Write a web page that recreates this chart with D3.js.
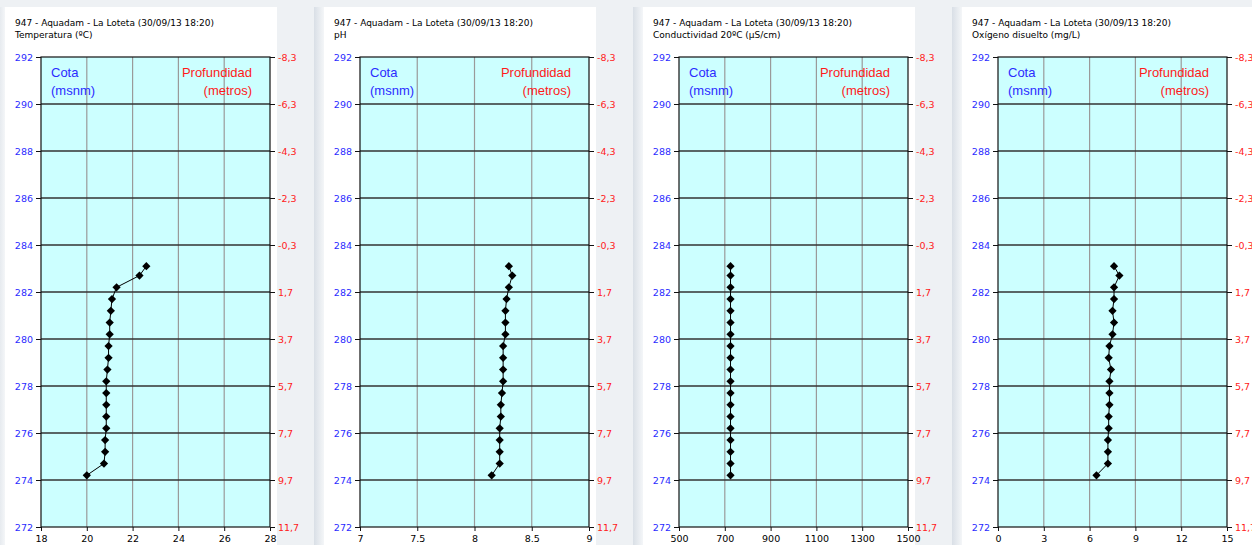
<!DOCTYPE html>
<html>
<head>
<meta charset="utf-8">
<script src="https://cdn.jsdelivr.net/npm/d3@7"></script>
<style>
  body { margin: 0; background: #e9edf1; }
  svg { display: block; }
</style>
</head>
<body>
<div id="chart"></div>
<script>
// cota (msnm) of each sample in the profile, top to bottom
const cota = [283.1, 282.7, 282.2, 281.7, 281.2, 280.7, 280.2, 279.7, 279.2, 278.7,
              278.2, 277.7, 277.2, 276.7, 276.2, 275.7, 275.2, 274.7, 274.2]

const temperature = [22.6, 22.3, 21.3, 21.1, 21.05, 21.0, 21.0, 20.95, 20.95, 20.9,
                     20.85, 20.85, 20.85, 20.85, 20.85, 20.8, 20.8, 20.75, 20.0]
const ph = [8.30, 8.33, 8.30, 8.28, 8.27, 8.27, 8.27, 8.25, 8.25, 8.25,
            8.25, 8.24, 8.23, 8.23, 8.22, 8.22, 8.22, 8.22, 8.15]
const conductivity = [725, 725, 725, 725, 725, 725, 725, 725, 725, 725,
                      725, 725, 725, 725, 725, 725, 725, 725, 725]
const oxygen = [7.6, 7.95, 7.6, 7.6, 7.5, 7.6, 7.5, 7.3, 7.25, 7.4,
                7.3, 7.3, 7.3, 7.25, 7.25, 7.2, 7.2, 7.2, 6.45]

const title = "947 - Aquadam - La Loteta (30/09/13 18:20)"
const variableNames = ["Temperatura (ºC)", "pH", "Conductividad 20ºC (µS/cm)", "Oxígeno disuelto (mg/L)"]
const xTicks = [
    [18, 20, 22, 24, 26, 28],
    [7, 7.5, 8, 8.5, 9],
    [500, 700, 900, 1100, 1300, 1500],
    [0, 3, 6, 9, 12, 15]
]
const cotaTicks = [292, 290, 288, 286, 284, 282, 280, 278, 276, 274, 272]
const depthTicks = ["-8,3", "-6,3", "-4,3", "-2,3", "-0,3", "1,7", "3,7", "5,7", "7,7", "9,7", "11,7"]

const series = [temperature, ph, conductivity, oxygen]

const width = 1252, height = 545
const plotLefts = [41, 360, 679, 998]
const plotW = 229
const plotTop = 57, plotBottom = 527

const svg = d3.select("#chart")
  .append("svg")
    .attr("width", width)
    .attr("height", height)

// soft shadow between the panels
const defs = svg.append("defs")
const grad = defs.append("linearGradient").attr("id", "shade")
grad.append("stop").attr("offset", "0%").attr("stop-color", "#d9dfe6")
grad.append("stop").attr("offset", "100%").attr("stop-color", "#f4f6f8")

svg.append("rect")
    .attr("width", width).attr("height", height)
    .attr("fill", "#eef1f4")

const scaleY = d3.scaleLinear()
    .domain([272, 292])
    .range([plotBottom, plotTop])

series.forEach((values, i) => {
    const left = plotLefts[i]
    const ticks = xTicks[i]

    const scaleX = d3.scaleLinear()
        .domain([ticks[0], ticks[ticks.length - 1]])
        .range([left, left + plotW])

    // panel card
    svg.append("rect")
        .attr("x", left - 46).attr("y", 7)
        .attr("width", 10).attr("height", height - 7)
        .attr("fill", "url(#shade)")
    svg.append("rect")
        .attr("x", left - 36).attr("y", 7)
        .attr("width", 272 + (i === 3 ? 20 : 0)).attr("height", height - 7)
        .attr("fill", "#ffffff")

    const g = svg.append("g")

    g.append("text")
        .attr("x", left - 26).attr("y", 26)
        .attr("font-family", "DejaVu Sans").attr("font-size", 9)
        .attr("fill", "#000")
        .text(title)
    g.append("text")
        .attr("x", left - 26).attr("y", 38)
        .attr("font-family", "DejaVu Sans").attr("font-size", 9)
        .attr("fill", "#000")
        .text(variableNames[i])

    g.append("rect")
        .attr("x", left).attr("y", plotTop)
        .attr("width", plotW).attr("height", plotBottom - plotTop)
        .attr("fill", "#ccffff")

    // vertical gridlines
    g.selectAll(".vgrid")
        .data(ticks.slice(1, -1))
        .join("line")
        .attr("x1", d => scaleX(d)).attr("x2", d => scaleX(d))
        .attr("y1", plotTop).attr("y2", plotBottom)
        .attr("stroke", "#9a9a9a").attr("stroke-width", 1.2)

    // horizontal gridlines
    g.selectAll(".hgrid")
        .data(cotaTicks.slice(1, -1))
        .join("line")
        .attr("x1", left).attr("x2", left + plotW)
        .attr("y1", d => scaleY(d)).attr("y2", d => scaleY(d))
        .attr("stroke", "#333").attr("stroke-width", 1.3)

    g.append("rect")
        .attr("x", left).attr("y", plotTop)
        .attr("width", plotW).attr("height", plotBottom - plotTop)
        .attr("fill", "none").attr("stroke", "#111").attr("stroke-width", 1.2)

    // left axis (cota)
    const leftAxis = g.append("g")
        .attr("transform", `translate(${left},0)`)
        .call(d3.axisLeft(scaleY).tickValues(cotaTicks).tickSize(5).tickPadding(3))
    leftAxis.select(".domain").remove()
    leftAxis.selectAll("line").attr("stroke", "#111")
    leftAxis.selectAll("text")
        .attr("font-family", "DejaVu Sans").attr("font-size", 9.5)
        .attr("fill", "#2b2bff")

    // right axis (profundidad)
    const rightAxis = g.append("g")
        .attr("transform", `translate(${left + plotW},0)`)
        .call(d3.axisRight(scaleY).tickValues(cotaTicks)
            .tickFormat((d, k) => depthTicks[k]).tickSize(5).tickPadding(3))
    rightAxis.select(".domain").remove()
    rightAxis.selectAll("line").attr("stroke", "#111")
    rightAxis.selectAll("text")
        .attr("font-family", "DejaVu Sans").attr("font-size", 9.5)
        .attr("fill", "#ff1a1a")

    // bottom axis
    const bottomAxis = g.append("g")
        .attr("transform", `translate(0,${plotBottom})`)
        .call(d3.axisBottom(scaleX).tickValues(ticks).tickFormat(d => String(d))
            .tickSize(4).tickPadding(4))
    bottomAxis.select(".domain").remove()
    bottomAxis.selectAll("line").attr("stroke", "#111")
    bottomAxis.selectAll("text")
        .attr("font-family", "DejaVu Sans").attr("font-size", 9.5)
        .attr("fill", "#000")

    // in-plot captions
    g.append("text")
        .attr("x", left + 10).attr("y", 77)
        .attr("font-family", "Liberation Sans").attr("font-size", 13)
        .attr("fill", "#2b2bff").text("Cota")
    g.append("text")
        .attr("x", left + 10).attr("y", 95)
        .attr("font-family", "Liberation Sans").attr("font-size", 13)
        .attr("fill", "#2b2bff").text("(msnm)")
    g.append("text")
        .attr("x", left + 211).attr("y", 77).attr("text-anchor", "end")
        .attr("font-family", "Liberation Sans").attr("font-size", 13)
        .attr("fill", "#ff1a1a").text("Profundidad")
    g.append("text")
        .attr("x", left + 211).attr("y", 95).attr("text-anchor", "end")
        .attr("font-family", "Liberation Sans").attr("font-size", 13)
        .attr("fill", "#ff1a1a").text("(metros)")

    // profile line + markers
    const points = values.map((v, k) => ({x: v, y: cota[k]}))
    g.append("path")
        .datum(points)
        .attr("d", d3.line().x(d => scaleX(d.x)).y(d => scaleY(d.y)))
        .attr("fill", "none").attr("stroke", "#000").attr("stroke-width", 1)

    g.selectAll(".marker")
        .data(points)
        .join("path")
        .attr("d", d3.symbol(d3.symbolSquare, 34))
        .attr("transform", d => `translate(${scaleX(d.x)},${scaleY(d.y)}) rotate(45)`)
        .attr("fill", "#000")
})
</script>
</body>
</html>
